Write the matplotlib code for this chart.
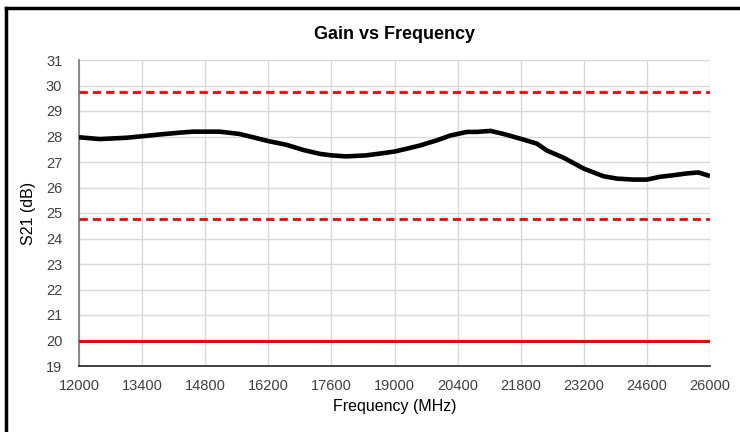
"""Gain vs Frequency — S21 sweep with spec limits."""
import matplotlib
matplotlib.use("Agg")
import matplotlib.pyplot as plt
from matplotlib.lines import Line2D

plt.rcParams["font.family"] = ["Liberation Sans", "DejaVu Sans"]

freq_mhz = [12000, 12460, 13050, 13400, 13790, 14230, 14530, 14800, 15120, 15560,
            15860, 16200, 16590, 16960, 17340, 17600, 17930, 18370, 18760, 19000,
            19270, 19570, 19940, 20240, 20400, 20610, 20830, 21130, 21420, 21800,
            22160, 22380, 22750, 23200, 23640, 23930, 24300, 24600, 24890, 25180,
            25480, 25740, 26000]
s21_db = [27.97, 27.90, 27.95, 28.01, 28.08, 28.15, 28.19, 28.19, 28.19, 28.10,
          27.97, 27.82, 27.68, 27.48, 27.32, 27.26, 27.22, 27.26, 27.35, 27.41,
          27.52, 27.65, 27.85, 28.04, 28.10, 28.18, 28.18, 28.22, 28.10, 27.91,
          27.72, 27.45, 27.17, 26.74, 26.44, 26.35, 26.31, 26.31, 26.42, 26.48,
          26.55, 26.59, 26.45]

upper_limit = 29.75
lower_limit = 24.75
min_gain = 20.0

x_ticks = [12000, 13400, 14800, 16200, 17600, 19000, 20400, 21800, 23200, 24600, 26000]
y_ticks = list(range(19, 32))

fig = plt.figure(figsize=(7.4, 4.32), dpi=100)
ax = fig.add_axes([79 / 740, 1 - 366 / 432, (710 - 79) / 740, (366 - 60) / 432])

ax.plot(freq_mhz, s21_db, color="black", lw=3.3, solid_capstyle="butt", zorder=4)
ax.axhline(upper_limit, color="#ff0000", lw=2, ls=(0, (3, 1.8)), zorder=3)
ax.axhline(lower_limit, color="#ff0000", lw=2, ls=(0, (3, 1.8)), zorder=3)
ax.axhline(min_gain, color="#ff0000", lw=2.2, zorder=3)

ax.set_xlim(x_ticks[0], x_ticks[-1])
ax.set_ylim(y_ticks[0], y_ticks[-1])
ax.set_xticks(x_ticks)
ax.set_yticks(y_ticks)
ax.grid(True, color="#d9d9d9", lw=1)
ax.set_axisbelow(True)
ax.tick_params(length=0, labelsize=10.5, colors="#404040")
ax.tick_params(axis="y", pad=12)
ax.tick_params(axis="x", pad=9)
for side in ("top", "right"):
    ax.spines[side].set_visible(False)
ax.spines["left"].set_color("#808080")
ax.spines["bottom"].set_color("#333333")
ax.spines["left"].set_linewidth(1.3)
ax.spines["bottom"].set_linewidth(1.3)

ax.set_title("Gain vs Frequency", fontsize=13, fontweight="bold", pad=15)
ax.set_xlabel("Frequency (MHz)", fontsize=11.5, labelpad=5)
ax.set_ylabel("S21 (dB)", fontsize=11.5, labelpad=7)

# Excel-like chart frame (only left and top visible in the crop)
fig.add_artist(Line2D([6 / 740, 6 / 740], [0, 1 - 8 / 432], color="black", lw=2.5,
                      transform=fig.transFigure))
fig.add_artist(Line2D([6 / 740, 1], [1 - 8 / 432, 1 - 8 / 432], color="black", lw=2.5,
                      transform=fig.transFigure))

fig.savefig("out.png", dpi=100)
